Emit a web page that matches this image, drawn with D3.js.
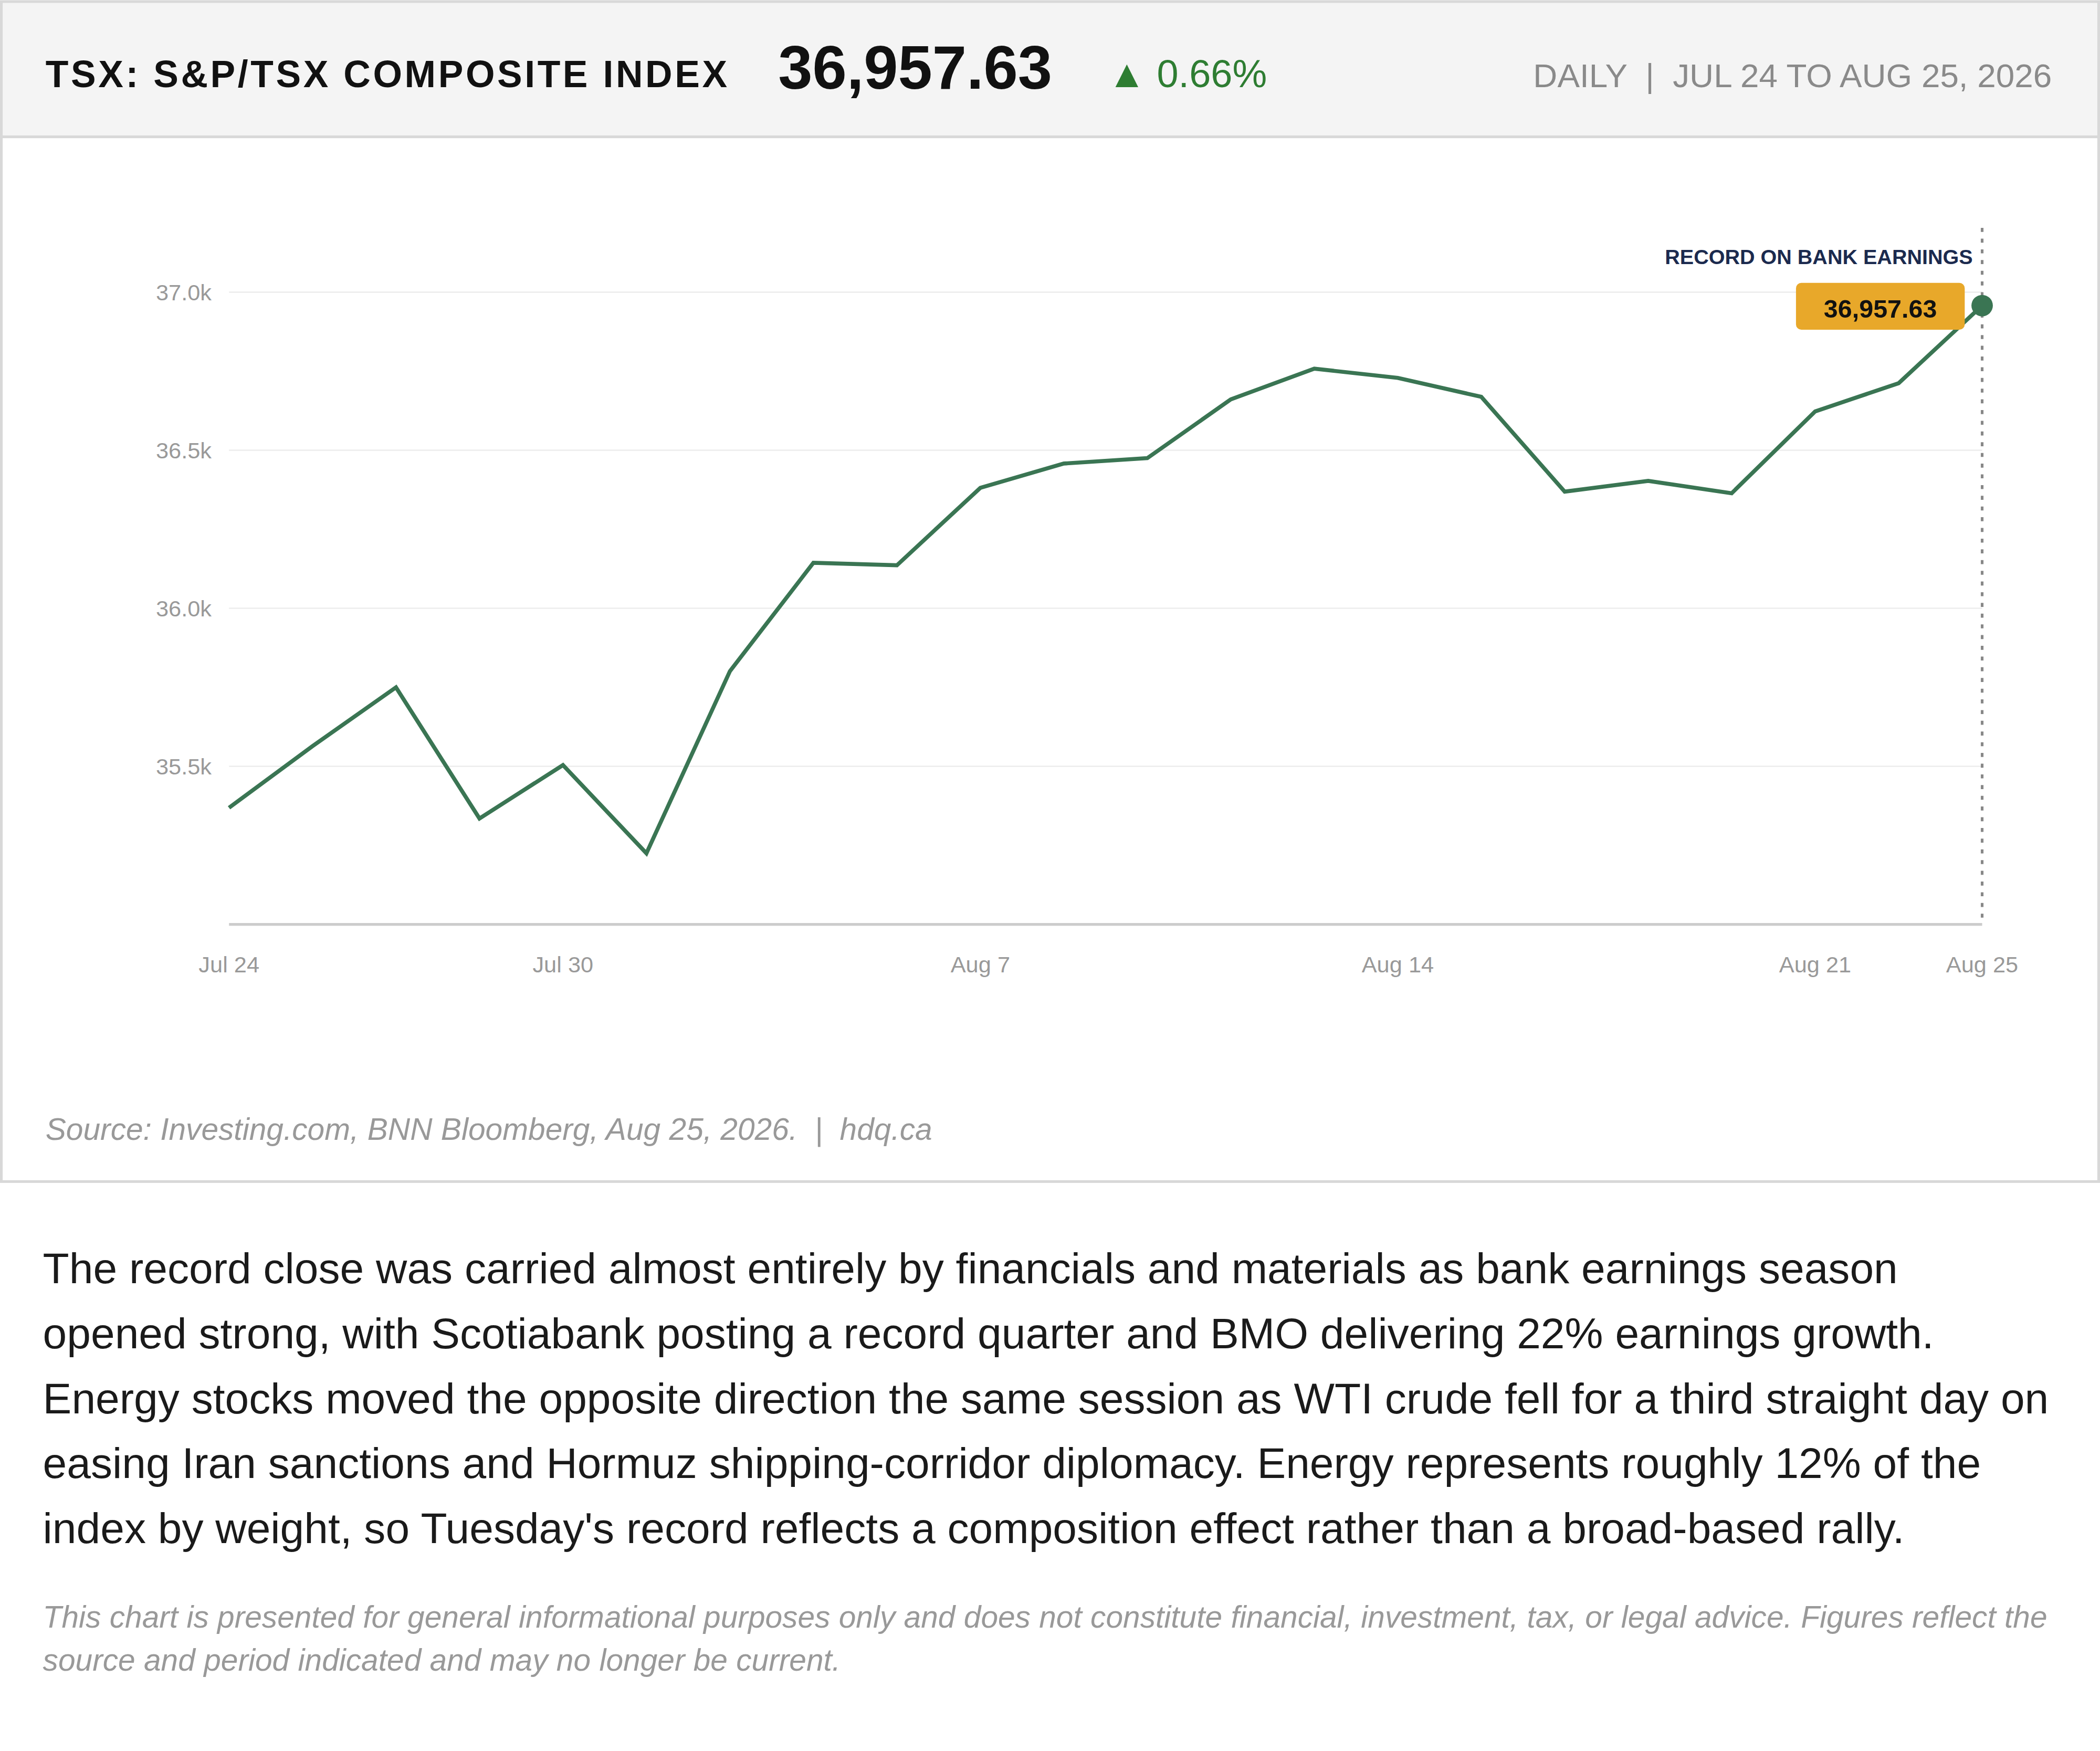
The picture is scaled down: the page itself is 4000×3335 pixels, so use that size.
<!DOCTYPE html>
<html><head><meta charset="utf-8">
<script src="https://cdn.jsdelivr.net/npm/d3@7"></script>
<style>html,body{margin:0;padding:0;background:#fff;}svg{display:block;font-family:"Liberation Sans",Arial,sans-serif;}text{white-space:pre;}</style>
</head><body><svg id="c"></svg>
<script>
const dates = ["Jul 24","Jul 27","Jul 28","Jul 29","Jul 30","Jul 31","Aug 4","Aug 5","Aug 6","Aug 7","Aug 10","Aug 11","Aug 12","Aug 13","Aug 14","Aug 17","Aug 18","Aug 19","Aug 20","Aug 21","Aug 24","Aug 25"];
const values = [35369,35564,35750,35335,35504,35225,35801,36144,36136,36381,36458,36475,36661,36758,36729,36669,36369,36403,36364,36623,36712,36957.63];
const tickLabels = ["Jul 24","Jul 30","Aug 7","Aug 14","Aug 21","Aug 25"];
const yTicks = [35500,36000,36500,37000];
const paragraph = ["The record close was carried almost entirely by financials and materials as bank earnings season",
"opened strong, with Scotiabank posting a record quarter and BMO delivering 22% earnings growth.",
"Energy stocks moved the opposite direction the same session as WTI crude fell for a third straight day on",
"easing Iran sanctions and Hormuz shipping-corridor diplomacy. Energy represents roughly 12% of the",
"index by weight, so Tuesday's record reflects a composition effect rather than a broad-based rally."];
const disclaimer = ["This chart is presented for general informational purposes only and does not constitute financial, investment, tax, or legal advice. Figures reflect the",
"source and period indicated and may no longer be current."];

const W=1568,H=1307;
const svg=d3.select("#c").attr("width",4000).attr("height",3335).attr("viewBox",`0 0 ${W} ${H}`);
svg.append("rect").attr("x",1).attr("y",1).attr("width",W-2).attr("height",101).attr("fill","#f4f4f4").attr("stroke","#d8d8d8").attr("stroke-width",2);
svg.append("rect").attr("x",1).attr("y",102).attr("width",W-2).attr("height",780).attr("fill","#fff").attr("stroke","#d8d8d8").attr("stroke-width",2);
svg.append("text").attr("x",34).attr("y",65).attr("font-size",28).attr("letter-spacing",1.8).attr("font-weight","bold").attr("fill","#111").text("TSX: S&P/TSX COMPOSITE INDEX");
svg.append("text").attr("x",581).attr("y",66).attr("font-size",46).attr("font-weight","bold").attr("fill","#111").text("36,957.63");
svg.append("text").attr("x",827).attr("y",65).attr("font-size",29).attr("fill","#2e7d32").text("▲ 0.66%");
svg.append("text").attr("x",1532).attr("y",65).attr("font-size",25).attr("fill","#8a8a8a").attr("text-anchor","end").text("DAILY  |  JUL 24 TO AUG 25, 2026");

const x=d3.scalePoint().domain(dates).range([171,1480]);
const y=d3.scaleLinear().domain([35000,37000]).range([690,218]);
const g=svg.append("g");
yTicks.forEach(t=>{
  g.append("line").attr("x1",171).attr("x2",1480).attr("y1",y(t)).attr("y2",y(t)).attr("stroke","#ececec");
  g.append("text").attr("x",158).attr("y",y(t)+6).attr("text-anchor","end").attr("font-size",17).attr("fill","#999").text((t/1000).toFixed(1)+"k");
});
g.append("line").attr("x1",171).attr("x2",1480).attr("y1",690).attr("y2",690).attr("stroke","#ccc").attr("stroke-width",2);
tickLabels.forEach(t=>g.append("text").attr("x",x(t)).attr("y",726).attr("text-anchor","middle").attr("font-size",17).attr("fill","#999").text(t));
const last=dates[dates.length-1];
g.append("line").attr("x1",x(last)).attr("x2",x(last)).attr("y1",170).attr("y2",690).attr("stroke","#888").attr("stroke-width",2).attr("stroke-dasharray","3,5");
g.append("path").datum(values).attr("fill","none").attr("stroke","#3a7553").attr("stroke-width",3)
 .attr("d",d3.line().x((d,i)=>x(dates[i])).y(d=>y(d)));
g.append("circle").attr("cx",x(last)).attr("cy",y(values[values.length-1])).attr("r",8).attr("fill","#3a7553");
g.append("text").attr("x",1473).attr("y",197).attr("text-anchor","end").attr("font-size",15.5).attr("font-weight","bold").attr("fill","#1b2a4e").text("RECORD ON BANK EARNINGS");
g.append("rect").attr("x",1341).attr("y",211).attr("width",126).attr("height",35).attr("rx",4).attr("fill","#e8a82a");
g.append("text").attr("x",1404).attr("y",237).attr("text-anchor","middle").attr("font-size",19).attr("font-weight","bold").attr("fill","#111").text("36,957.63");

svg.append("text").attr("x",34).attr("y",851).attr("font-size",23).attr("font-style","italic").attr("fill","#999").text("Source: Investing.com, BNN Bloomberg, Aug 25, 2026.  |  hdq.ca");
const p=svg.append("text").attr("font-size",32.2).attr("fill","#1a1a1a");
paragraph.forEach((l,i)=>p.append("tspan").attr("x",32).attr("y",958+i*48.5).text(l));
const dsc=svg.append("text").attr("font-size",23).attr("font-style","italic").attr("fill","#999");
disclaimer.forEach((l,i)=>dsc.append("tspan").attr("x",32).attr("y",1215+i*32).text(l));
</script></body></html>
